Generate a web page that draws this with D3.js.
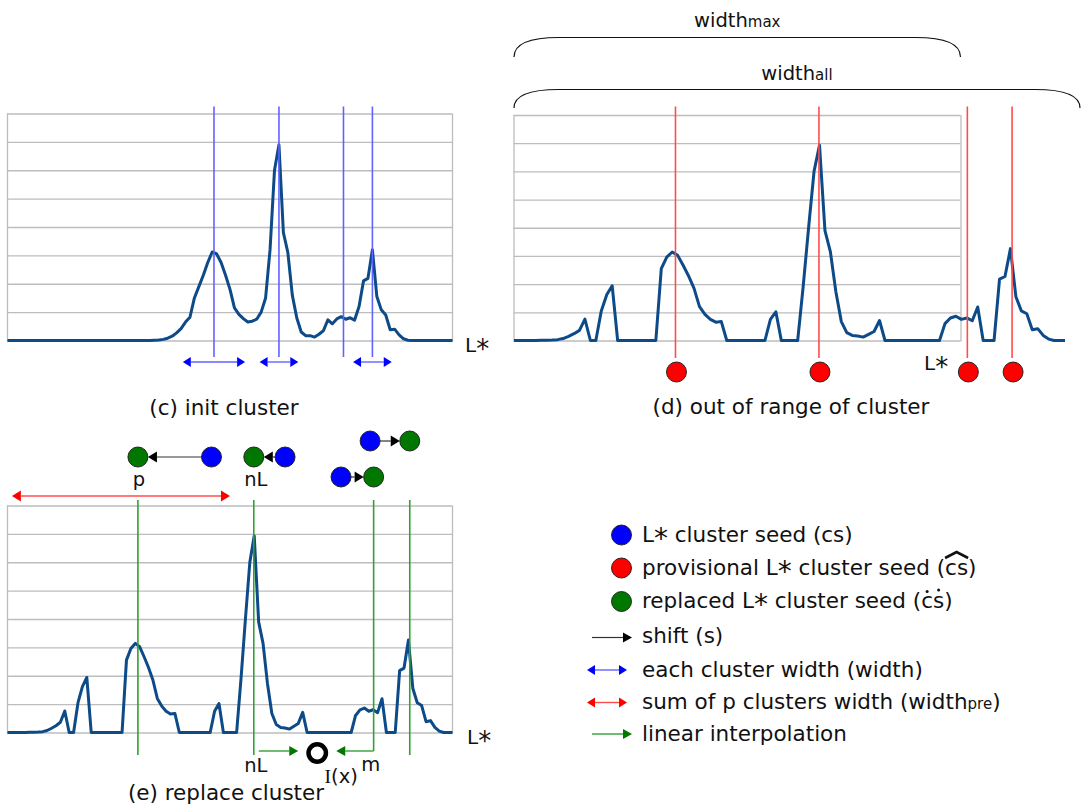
<!DOCTYPE html>
<html>
<head>
<meta charset="utf-8">
<script src="https://cdn.jsdelivr.net/npm/d3@7"></script>
<style>
  html, body { margin: 0; padding: 0; background: #fff; }
  svg { display: block; font-family: "DejaVu Sans", "Noto Sans", sans-serif; }
</style>
</head>
<body>
<svg id="fig" width="1081" height="811"></svg>
<script>
// ---------------- data ----------------
// L* histogram (bins 0..100) used for the initial clustering
const lStarInit = d3.range(0, 101);
const countInit = [
  0,0,0,0,0,0,0,0,0,0, 0,0,0,0,0,0,0,0,0,0, 0,0,0,0,0,0,0,0,0,0, 0,0,0,
  0.01,0.02,0.04,0.08,0.15,0.27,0.42,0.65,0.82,1.5,1.9,2.3,2.75,3.12,3.05,2.75,2.3,
  1.8,1.15,0.92,0.77,0.65,0.68,0.75,1.0,1.5,3.2,6.0,6.9,3.8,3.1,1.6,0.8,0.3,
  0.17,0.17,0.12,0.22,0.35,0.73,0.59,0.76,0.84,0.75,0.8,0.72,1.2,2.1,2.19,3.2,
  1.55,1.08,0.9,0.38,0.4,0.2,0.06,0.01,
  0,0,0,0,0,0,0,0,0,0
];

// stretched histogram (bins 0..101) used in (d) and (e)
const binStretch = d3.range(0, 102);
const countStretch = [
  0,0,0,0,0,
  0.01,0.01,0.015,0.03,0.07,0.15,0.24,0.36,0.76,
  0,0,
  1.05,1.62,1.94,
  0,0,0,0,0,0,0,0,
  2.55,2.96,3.14,3.02,2.67,2.29,1.85,1.2,0.93,0.75,0.65,0.67,
  0,0,0,0,0,0,0,0,
  0.75,1.02,
  0,0,0,0,
  1.9,4.0,6.0,6.93,3.9,3.14,1.73,0.67,0.28,0.18,0.16,0.12,0.22,0.32,0.71,
  0,0,0,0,0,0,0,0,0,0,0,
  0.6,0.8,0.86,0.75,0.8,0.7,1.19,
  0,0,0,
  2.18,2.27,3.26,1.55,1.05,0.95,0.38,0.42,0.18,0.05,
  0,0,0
];

const gridLevels = d3.range(0, 9);

// (c) initial cluster seeds and widths (L*)
const seedsInit = [46.4, 61, 75.5, 82];
const widthSeed = [46.4, 61, 82];
const widthSpan = [14, 8.7, 8.7];

// (d) provisional seeds, (e) replaced seeds (stretched bins)
const seedsProvisional = [29.6, 55.9, 83.1, 91.3];
const seedsReplaced = [29.6, 55.9, 83.1, 91.3];

// (e) shift of each seed: from cs to replaced seed
const shiftFrom = [46.3, 63, 75.7, 82.3];
const shiftTo = seedsReplaced;
const shiftRow = [1, 1, 2, 0];

// (e) sum of p cluster widths, interpolation point
const widthPreRange = [1, 50.5];
const interpNL = 55.9, interpM = 83.1, interpX = 70.3;

// ---------------- style ----------------
const curveColor = "#0d4a88";
const gridColor = "#bdbdbd";
const ink = "#111";
const cBlue = "#0000ff", cRed = "#ff0000", cGreen = "#007800";
const lineBlue = "#6262ff", lineRed = "#ff4c4c", lineGreen = "#33a033";

const svg = d3.select("#fig");

// ---------------- scales ----------------
const xC = d3.scaleLinear().domain([0, 100]).range([7.5, 452.5]);
const yC = d3.scaleLinear().domain([0, 8]).range([340.5, 113.5]);
const xD = d3.scaleLinear().domain([0, 101]).range([514, 1065]);
const yD = d3.scaleLinear().domain([0, 8]).range([340.5, 115]);
const boxRightD = 960.5;
const xE = d3.scaleLinear().domain([0, 101]).range([7.5, 452.5]);
const yE = d3.scaleLinear().domain([0, 8]).range([732.5, 505.5]);

// ---------------- helpers ----------------
function frame(x0, x1, y) {
  const g = svg.append("g");
  const grid = g.append("g").attr("transform", `translate(${x0},0)`)
    .call(d3.axisLeft(y).tickValues(gridLevels).tickSize(-(x1 - x0)).tickFormat(""));
  grid.select(".domain").remove();
  grid.selectAll("line").attr("stroke", gridColor).attr("stroke-width", 1.3);
  [x0, x1].forEach(x => {
    g.append("line").attr("x1", x + 0.5).attr("x2", x + 0.5)
      .attr("y1", y(8)).attr("y2", y(0) + 1)
      .attr("stroke", gridColor).attr("stroke-width", 1.3);
  });
}

function curve(xs, ys, x, y) {
  svg.append("path")
    .datum(d3.zip(xs, ys))
    .attr("d", d3.line().x(d => x(d[0])).y(d => y(d[1])))
    .attr("fill", "none").attr("stroke", curveColor)
    .attr("stroke-width", 3).attr("stroke-linejoin", "round");
}

function vline(x, y1, y2, color) {
  svg.append("line").attr("x1", x).attr("x2", x).attr("y1", y1).attr("y2", y2)
    .attr("stroke", color).attr("stroke-width", 1.6);
}

// horizontal arrow from xa to xb (head at xb, and at xa when both)
function arrow(xa, xb, y, o) {
  const len = o.len || 9, half = o.half || 5;
  const dir = xb > xa ? 1 : -1;
  const la = o.both ? xa + dir * len : xa;
  const lb = xb - dir * len;
  svg.append("line").attr("x1", la).attr("x2", lb).attr("y1", y).attr("y2", y)
    .attr("stroke", o.line).attr("stroke-width", o.width || 1.4);
  const head = (tip, d) => svg.append("path")
    .attr("d", `M${tip},${y} L${tip - d * len},${y - half} L${tip - d * len},${y + half} Z`)
    .attr("fill", o.head);
  head(xb, dir);
  if (o.both) head(xa, -dir);
}

function dot(x, y, fill, r) {
  svg.append("circle").attr("cx", x).attr("cy", y).attr("r", r || 10)
    .attr("fill", fill).attr("stroke", "#1a1a1a").attr("stroke-width", 0.9);
}

// text with an enlarged asterisk and optional small runs
function label(x, y, parts, o) {
  o = o || {};
  const size = o.size || 21.5;
  const t = svg.append("text").attr("x", x).attr("y", y)
    .attr("font-size", size).attr("fill", ink)
    .attr("text-anchor", o.anchor || "start");
  if (typeof parts === "string") parts = [[parts, "n"]];
  const shift = size * 0.3;
  parts.forEach(([str, kind]) => {
    if (kind === "s") { t.append("tspan").attr("font-size", o.sub || 15).text(str); return; }
    if (kind === "serif") { t.append("tspan").attr("font-family", "Liberation Serif").text(str); return; }
    str.split("*").forEach((p, i) => {
      if (i > 0) {
        t.append("tspan").attr("font-size", size * 1.3).attr("dy", shift).text("*");
        t.append("tspan").attr("dy", -shift).text(p);
      } else if (p.length) {
        t.append("tspan").text(p);
      }
    });
  });
  return t;
}

function bracket(xl, xr, yTop, yEnd) {
  const r = 45;
  svg.append("path")
    .attr("d", `M${xl},${yEnd} C${xl},${yTop + 4} ${xl + r * 0.45},${yTop} ${xl + r},${yTop}
                L${xr - r},${yTop} C${xr - r * 0.45},${yTop} ${xr},${yTop + 4} ${xr},${yEnd}`)
    .attr("fill", "none").attr("stroke", ink).attr("stroke-width", 1.2);
}

// ================= (c) init cluster =================
frame(7, 452, yC);
curve(lStarInit, countInit, xC, yC);
seedsInit.forEach(s => vline(xC(s), 106.5, 357, lineBlue));
widthSeed.forEach((s, i) => {
  arrow(xC(s - widthSpan[i] / 2), xC(s + widthSpan[i] / 2), 362,
        { both: true, line: lineBlue, head: cBlue, len: 8, half: 5 });
});
label(465, 352, "L*", { size: 20 });
label(224, 415, "(c) init cluster", { anchor: "middle", size: 21.5 });

// ================= (d) out of range of cluster =================
bracket(514, boxRightD, 37.5, 57);
label((514 + boxRightD) / 2, 27, [["width", "n"], ["max", "s"]], { anchor: "middle", size: 19.5 });
bracket(514, 1080, 89.5, 108);
label((514 + 1080) / 2, 80, [["width", "n"], ["all", "s"]], { anchor: "middle", size: 19.5 });
frame(513.5, boxRightD, yD);
curve(binStretch, countStretch, xD, yD);
seedsProvisional.forEach(s => vline(xD(s), 106.5, 358, lineRed));
seedsProvisional.forEach(s => dot(xD(s) + 1, 372, cRed));
label(924, 370, "L*", { size: 20 });
label(791, 414, "(d) out of range of cluster", { anchor: "middle", size: 21.5 });

// ================= (e) replace cluster =================
frame(7, 452, yE);
curve(binStretch, countStretch, xE, yE);
seedsReplaced.forEach((s, i) => vline(xE(s), 500, i === 2 ? 751 : 755, lineGreen));

// seed shifts
const rowY = [441, 457, 477];
shiftFrom.forEach((f, i) => {
  const xb = xE(f), xg = xE(shiftTo[i]), y = rowY[shiftRow[i]];
  const d = xg > xb ? 1 : -1;
  arrow(xb + d * 10, xg - d * 10, y, { line: "#333", head: "#000", len: 9, half: 5.5, width: 1.2 });
  dot(xb, y, cBlue);
  dot(xg, y, cGreen);
});
label(xE(shiftTo[0]) + 1, 486, "p", { anchor: "middle", size: 19.5 });
label(xE(shiftTo[1]) + 2, 486, "nL", { anchor: "middle", size: 19.5 });

// sum of p cluster widths
arrow(xE(widthPreRange[0]), xE(widthPreRange[1]), 496,
      { both: true, line: lineRed, head: cRed, len: 9, half: 5.5 });

// linear interpolation between nL and m
arrow(xE(interpNL) + 5, xE(interpX) - 19, 751, { line: lineGreen, head: cGreen, len: 9, half: 5 });
arrow(xE(interpM), xE(interpX) + 19, 751, { line: lineGreen, head: cGreen, len: 9, half: 5 });
svg.append("circle").attr("cx", xE(interpX)).attr("cy", 753).attr("r", 8.7)
  .attr("fill", "none").attr("stroke", "#000").attr("stroke-width", 4.5);
label(xE(interpNL) + 2, 772, "nL", { anchor: "middle", size: 19.5 });
label(xE(interpM) - 3, 771, "m", { anchor: "middle", size: 19.5 });
label(xE(interpX) + 24, 783, [["I", "serif"], ["(x)", "n"]], { anchor: "middle", size: 19.5 });
label(467, 744, "L*", { size: 20 });
label(226, 800, "(e) replace cluster", { anchor: "middle", size: 21.5 });

// ================= legend =================
const lgX = 621.5, lgT = 642;
dot(lgX, 535, cBlue);
label(lgT, 542, "L* cluster seed (cs)");
dot(lgX, 568, cRed);
const t2 = label(lgT, 575, "provisional L* cluster seed (cs)");
dot(lgX, 601.5, cGreen);
const t3 = label(lgT, 607.5, "replaced L* cluster seed (cs)");

// hat over "cs"
{
  const n = t2.node(), txt = n.textContent, k = txt.lastIndexOf("cs");
  const a = n.getStartPositionOfChar(k).x, b = n.getEndPositionOfChar(k + 1).x;
  const m = (a + b) / 2, hw = (b - a) / 2;
  svg.append("path")
    .attr("d", `M${m - hw},${575 - 17} L${m},${575 - 23} L${m + hw},${575 - 17}`)
    .attr("fill", "none").attr("stroke", ink).attr("stroke-width", 2.6);
}
// dots over "cs"
{
  const n = t3.node(), txt = n.textContent, k = txt.lastIndexOf("cs");
  [k, k + 1].forEach((j, i) => {
    const a = n.getStartPositionOfChar(j).x, b = n.getEndPositionOfChar(j).x;
    svg.append("circle").attr("cx", (a + b) / 2).attr("cy", 607.5 - 16 - i * 1.5)
      .attr("r", 1.5).attr("fill", ink);
  });
}

arrow(592, 632, 637.5, { line: "#333", head: "#000", len: 9, half: 5, width: 1.2 });
label(lgT, 643, "shift (s)");
arrow(587, 627, 670, { both: true, line: lineBlue, head: cBlue, len: 8, half: 5 });
label(lgT, 676.5, "each cluster width (width)");
arrow(587, 627, 702.5, { both: true, line: lineRed, head: cRed, len: 8, half: 5 });
label(lgT, 709, [["sum of p clusters width (width", "n"], ["pre", "s"], [")", "n"]]);
arrow(592, 632, 734, { line: lineGreen, head: cGreen, len: 9, half: 5 });
label(lgT, 741, "linear interpolation");
</script>
</body>
</html>
